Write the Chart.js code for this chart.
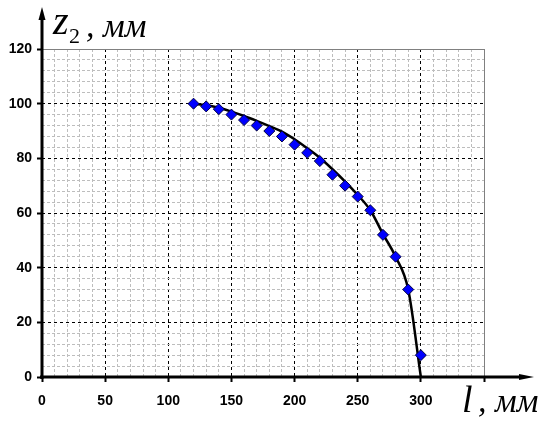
<!DOCTYPE html>
<html>
<head>
<meta charset="utf-8">
<script src="https://cdn.jsdelivr.net/npm/chart.js@4"></script>
<style>
  html, body { margin: 0; padding: 0; background: #fff; }
  #wrap { width: 548px; height: 422px; position: relative; }
</style>
</head>
<body>
<div id="wrap"><canvas id="chart"></canvas></div>
<script>
// measured points (blue diamonds)
const lMeasured = [120, 130, 140, 150, 160, 170, 180, 190, 200, 210, 220, 230, 240, 250, 260, 270, 280, 290, 300];
const z2Measured = [100, 99, 98, 96, 94, 92, 90, 88, 85, 82, 79, 74, 70, 66, 61, 52, 44, 32, 8];

// smooth black curve
const lCurve = [120, 130, 140, 150, 160, 170, 180, 190, 200, 210, 220, 230, 240, 250, 260, 270, 280, 290, 300];
const z2Curve = [100, 99.4, 98.5, 97.1, 95.5, 93.7, 91.8, 89.8, 87, 83.7, 80.2, 76, 71.5, 66.6, 61, 52.3, 44, 32, 0];

// axis tick labels
const xTickLabels = [0, 50, 100, 150, 200, 250, 300];
const yTickLabels = [0, 20, 40, 60, 80, 100, 120];

const ctx = document.getElementById("chart");

const xMajor = (v) => v % 50 === 0;
const yMajor = (v) => v % 20 === 0;

const axesPlugin = {
  id: "axesArrows",
  beforeDatasetsDraw(chart) {
    const c = chart.ctx;
    const x = chart.scales.x, y = chart.scales.y;
    const x0 = x.getPixelForValue(0), y0 = y.getPixelForValue(0);
    c.save();
    c.strokeStyle = "#000";
    c.fillStyle = "#000";
    c.lineWidth = 3;
    // y axis with arrow
    c.beginPath();
    c.moveTo(x0, y0 + 2);
    c.lineTo(x0, 16);
    c.stroke();
    c.beginPath();
    c.moveTo(x0, 7);
    c.lineTo(x0 - 3.5, 20);
    c.lineTo(x0 + 3.5, 20);
    c.closePath();
    c.fill();
    // x axis with arrow
    c.beginPath();
    c.moveTo(x0 - 2, y0);
    c.lineTo(522, y0);
    c.stroke();
    c.beginPath();
    c.moveTo(534, y0);
    c.lineTo(519, y0 - 3);
    c.lineTo(519, y0 + 3);
    c.closePath();
    c.fill();
    c.restore();
  },
  afterDraw(chart) {
    const c = chart.ctx;
    c.save();
    c.fillStyle = "#000";
    c.textBaseline = "alphabetic";
    // y title
    c.font = 'italic 40px "Liberation Serif"';
    c.fillText("z", 53, 34);
    c.font = '22px "Liberation Serif"';
    c.fillText("2", 69, 43);
    c.font = 'italic 34px "Liberation Serif"';
    c.fillText(", мм", 86, 37);
    // x title
    c.font = 'italic 38px "Liberation Serif"';
    c.fillText("l", 462, 412);
    c.font = 'italic 34px "Liberation Serif"';
    c.fillText(", мм", 478, 412);
    c.restore();
  }
};

new Chart(ctx, {
  type: "scatter",
  data: {
    datasets: [
      {
        label: "measured",
        data: lMeasured.map((l, i) => ({ x: l, y: z2Measured[i] })),
        pointStyle: "rectRot",
        pointRadius: 5.5,
        backgroundColor: "#0000FF",
        borderColor: "#000040",
        borderWidth: 1,
        showLine: false,
        order: 0,
      },
      {
        label: "curve",
        data: lCurve.map((l, i) => ({ x: l, y: z2Curve[i] })),
        showLine: true,
        borderColor: "#000",
        borderWidth: 2.5,
        pointRadius: 0,
        cubicInterpolationMode: "monotone",
        fill: false,
        order: 1,
      },
    ],
  },
  options: {
    responsive: true,
    maintainAspectRatio: false,
    animation: false,
    events: [],
    layout: {
      padding: { left: 0, top: 49, right: 64, bottom: 0 },
    },
    plugins: {
      legend: { display: false },
      tooltip: { enabled: false },
    },
    scales: {
      x: {
        type: "linear",
        min: 0,
        max: 350,
        afterFit: (s) => { s.height = 45; },
        border: {
          display: false,
          dash: (c) => (c.tick && c.tick.value === 350 ? [] : xMajor(c.tick ? c.tick.value : 0) ? [3, 3] : [3, 2]),
        },
        grid: {
          color: (c) => (c.tick.value === 350 ? "#808080" : xMajor(c.tick.value) ? "#000" : "#bdbdbd"),
          lineWidth: 1,
          tickColor: (c) => (xMajor(c.tick.value) ? "#000" : "rgba(0,0,0,0)"),
          tickWidth: 2,
          tickLength: 5,
          tickBorderDash: [],
        },
        ticks: {
          stepSize: 10,
          autoSkip: false,
          maxRotation: 0,
          padding: 11,
          color: "#000",
          font: { family: "Liberation Sans", size: 14, weight: "bold" },
          callback: (v) => (xTickLabels.includes(v) ? String(v) : ""),
        },
      },
      y: {
        type: "linear",
        min: 0,
        max: 120,
        afterFit: (s) => { s.width = 42; },
        border: {
          display: false,
          dash: (c) => (c.tick && c.tick.value === 120 ? [] : yMajor(c.tick ? c.tick.value : 0) ? [3, 3] : [3, 2]),
        },
        grid: {
          color: (c) => (c.tick.value === 120 ? "#808080" : yMajor(c.tick.value) ? "#000" : "#bdbdbd"),
          lineWidth: 1,
          tickColor: (c) => (yMajor(c.tick.value) ? "#000" : "rgba(0,0,0,0)"),
          tickWidth: 2,
          tickLength: 5,
          tickBorderDash: [],
        },
        ticks: {
          stepSize: 4,
          autoSkip: false,
          padding: 5,
          color: "#000",
          font: { family: "Liberation Sans", size: 14, weight: "bold" },
          callback: (v) => (yTickLabels.includes(v) ? String(v) : ""),
        },
      },
    },
  },
  plugins: [axesPlugin],
});
</script>
</body>
</html>
